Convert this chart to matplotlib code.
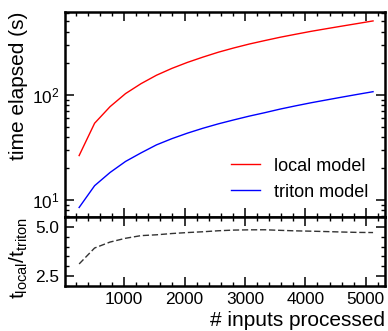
import numpy as np
import matplotlib
matplotlib.use("Agg")
import matplotlib.pyplot as plt
from matplotlib.ticker import FixedLocator, MultipleLocator, LogLocator, FormatStrFormatter, NullFormatter

plt.rcParams["font.family"] = ["Liberation Sans", "DejaVu Sans"]
plt.rcParams["mathtext.fontset"] = "custom"
plt.rcParams["mathtext.rm"] = "Liberation Sans"
plt.rcParams["mathtext.it"] = "Liberation Sans:italic"

# number of inputs processed
n_inputs = [256, 512, 768, 1024, 1280, 1536, 1792, 2048, 2304, 2560,
            2816, 3072, 3328, 3584, 3840, 4096, 4352, 4608, 4864, 5120]
# time elapsed (s)
local_time = [26.5, 53.8, 77.4, 103, 128, 154, 179, 204, 229, 255,
              280, 305, 329, 354, 378, 403, 427, 452, 478, 506]
triton_time = [8.5, 13.7, 18.3, 23.3, 28.1, 33.5, 38.4, 43.3, 48.2, 53.1,
               57.9, 62.9, 67.8, 73.4, 78.8, 84.3, 89.7, 95.4, 101.3, 107.4]

ratio = np.array(local_time) / np.array(triton_time)


def style_axis(ax):
    """Inward ticks on all four sides, thick frame."""
    for side in ax.spines.values():
        side.set_linewidth(1.8)
    ax.tick_params(which="both", direction="in", top=True, right=True,
                   labelsize=12.4, pad=4)
    ax.tick_params(which="major", length=6.5, width=1.1)
    ax.tick_params(which="minor", length=3.2, width=1.0)


fig = plt.figure(figsize=(3.88, 3.31), dpi=100)
ax_top = fig.add_axes([0.1675, 0.3444, 0.8245, 0.6193])
ax_bot = fig.add_axes([0.1675, 0.136, 0.8245, 0.2084], sharex=ax_top)

ax_top.plot(n_inputs, local_time, color="#ff0000", lw=1.0, label="local model")
ax_top.plot(n_inputs, triton_time, color="#0000ff", lw=1.0, label="triton model")
ax_top.set_yscale("log")
ax_top.set_ylim(6.9, 615)
ax_top.set_xlim(22, 5316)
ax_top.yaxis.set_major_locator(LogLocator(base=10, numticks=10))
ax_top.yaxis.set_minor_locator(LogLocator(base=10, subs=np.arange(2, 10), numticks=10))
ax_top.yaxis.set_minor_formatter(NullFormatter())
ax_top.xaxis.set_major_locator(MultipleLocator(1000))
ax_top.xaxis.set_minor_locator(MultipleLocator(200))
style_axis(ax_top)
ax_top.tick_params(labelbottom=False)
ax_top.set_ylabel("time elapsed (s)", fontsize=15, loc="top", labelpad=3)

leg = ax_top.legend(loc="lower right", bbox_to_anchor=(1.0, 0.0), frameon=False,
                    fontsize=13, handlelength=1.6, handletextpad=0.8,
                    labelspacing=0.5, borderaxespad=0.5)

ax_bot.plot(n_inputs, ratio, color="#333333", lw=1.0, linestyle=(0, (4.5, 2)))
ax_bot.set_ylim(2.0, 5.5)
ax_bot.yaxis.set_major_locator(FixedLocator([2.5, 5.0]))
ax_bot.yaxis.set_minor_locator(MultipleLocator(0.5))
ax_bot.yaxis.set_major_formatter(FormatStrFormatter("%.1f"))
style_axis(ax_bot)
ax_bot.set_ylabel(r"$\mathregular{t_{local}/t_{triton}}$", fontsize=15, loc="top", labelpad=4)
ax_bot.set_xlabel("# inputs processed", fontsize=15, loc="right", labelpad=3)

fig.savefig("out.png", dpi=100)
